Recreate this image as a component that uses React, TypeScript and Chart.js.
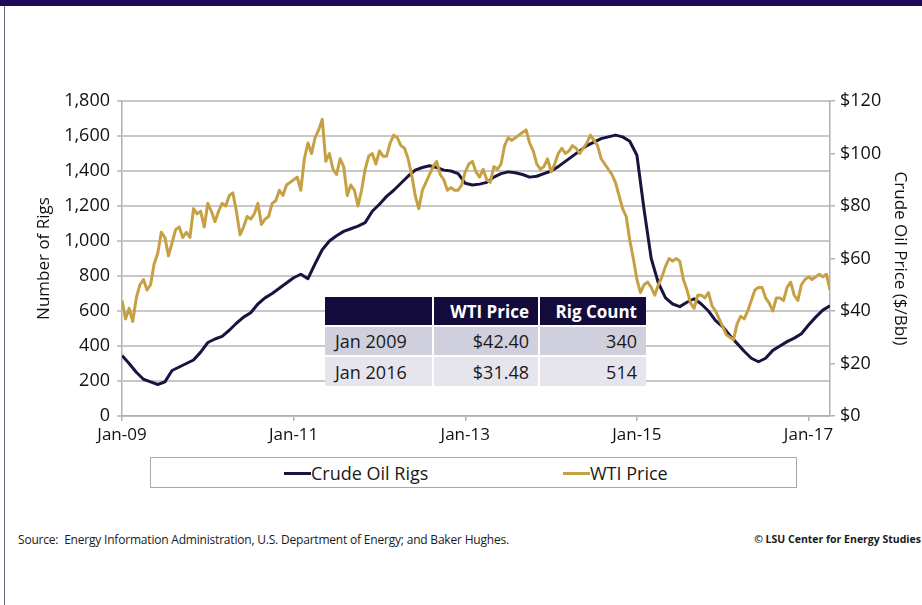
import React, { useEffect, useRef } from 'react';
import { Chart, registerables } from 'chart.js';

Chart.register(...registerables);

// Monthly crude oil rig count, Jan 2009 (index 0) .. Apr 2017 (index 99)
const rigCounts = [
  345, 300, 250, 210, 195, 180, 195, 260, 280, 300, 320, 365,
  420, 440, 455, 490, 530, 565, 590, 640, 675, 700, 730, 760,
  790, 810, 785, 870, 950, 1000, 1030, 1055, 1070, 1085, 1105, 1170,
  1210, 1255, 1290, 1330, 1370, 1405, 1420, 1430, 1420, 1405, 1400, 1385,
  1330, 1320, 1325, 1335, 1365, 1385, 1395, 1390, 1380, 1365, 1370, 1385,
  1400, 1425, 1455, 1485, 1515, 1545, 1565, 1585, 1595, 1605, 1595, 1570,
  1490, 1180, 900, 760, 675, 640, 625, 650, 670, 640, 600, 545,
  510, 460, 415, 370, 330, 310, 330, 375, 400, 425, 445, 470,
  520, 565, 605, 630,
];

// Semi-monthly WTI price ($/Bbl), Jan 2009 (index 0) .. Apr 2017 (index 198)
const wtiPrices = [
  44, 37, 41, 36, 45, 50, 52, 48, 50, 58, 62, 70, 68, 61, 66, 71, 72, 68, 70, 68, 79, 77, 78, 72,
  81, 78, 74, 78, 81, 80, 84, 85, 78, 69, 72, 76, 75, 77, 81, 73, 75, 76, 81, 82, 86, 84, 88, 89,
  90, 91, 86, 98, 104, 100, 106, 109, 113, 97, 100, 94, 92, 98, 95, 84, 88, 86, 80, 86, 94, 99, 100, 96,
  101, 99, 99, 104, 107, 106, 103, 102, 98, 92, 84, 79, 86, 89, 92, 95, 97, 92, 90, 86, 87, 86, 86, 88,
  93, 96, 97, 93, 91, 94, 90, 89, 95, 94, 96, 103, 106, 105, 106, 107, 108, 109, 104, 101, 96, 94, 95, 98,
  93, 96, 100, 102, 100, 101, 103, 102, 100, 102, 104, 107, 105, 103, 98, 96, 94, 92, 89, 84, 79, 76, 67, 60,
  52, 47, 50, 51, 49, 46, 50, 53, 57, 60, 59, 60, 59, 52, 48, 43, 41, 46, 46, 45, 47, 42, 40, 37,
  34, 31, 30, 29, 35, 38, 37, 40, 44, 48, 49, 49, 45, 43, 40, 45, 45, 44, 49, 51, 46, 44, 50, 52,
  53, 52, 53, 54, 53, 54, 48,
];

const xTickMonths = [0, 24, 48, 72, 96];
const xTickLabels = ['Jan-09', 'Jan-11', 'Jan-13', 'Jan-15', 'Jan-17'];
const seriesNames = ['Crude Oil Rigs', 'WTI Price'];
const tableHeaders = ['', 'WTI Price', 'Rig Count'];
const tableRows = [
  ['Jan 2009', '$42.40', '340'],
  ['Jan 2016', '$31.48', '514'],
];

const NAVY = '#1b1242';
const GOLD = '#c6a144';
const FONT = "'Open Sans', sans-serif";

const fmtComma = (v: number) => String(v).replace(/\B(?=(\d{3})+(?!\d))/g, ',');

export default function App() {
  const canvasRef = useRef<HTMLCanvasElement | null>(null);

  useEffect(() => {
    const canvas = canvasRef.current;
    if (!canvas) return;
    const chart = new Chart(canvas, {
      type: 'line',
      data: {
        datasets: [
          {
            label: seriesNames[0],
            data: rigCounts.map((y, i) => ({ x: i, y })),
            yAxisID: 'y',
            borderColor: NAVY,
            backgroundColor: NAVY,
            borderWidth: 3,
            pointRadius: 0,
            tension: 0,
            borderJoinStyle: 'round',
            order: 2,
          },
          {
            label: seriesNames[1],
            data: wtiPrices.map((y, i) => ({ x: i / 2, y })),
            yAxisID: 'y1',
            borderColor: GOLD,
            backgroundColor: GOLD,
            borderWidth: 3,
            pointRadius: 0,
            tension: 0,
            borderJoinStyle: 'round',
            order: 1,
          },
        ],
      },
      options: {
        responsive: false,
        animation: false,
        devicePixelRatio: 1,
        layout: { padding: { top: 101, left: 0, right: 0, bottom: 0 } },
        plugins: { legend: { display: false }, tooltip: { enabled: false } },
        scales: {
          x: {
            type: 'linear',
            min: 0,
            max: 99,
            afterBuildTicks: (s: any) => {
              s.ticks = xTickMonths.map((v) => ({ value: v }));
            },
            afterFit: (s: any) => {
              s.height = 34;
            },
            grid: { drawOnChartArea: false, drawTicks: true, tickLength: 5, color: '#b0b0b0', lineWidth: 1.5 },
            border: { color: '#b0b0b0', width: 1.5 },
            ticks: {
              autoSkip: false,
              maxRotation: 0,
              padding: 4,
              color: '#111',
              font: { family: FONT, size: 17 },
              callback: (v: any) => {
                const i = xTickMonths.indexOf(Number(v));
                return i >= 0 ? xTickLabels[i] : '';
              },
            },
          },
          y: {
            position: 'left',
            min: 0,
            max: 1800,
            afterFit: (s: any) => {
              s.width = 122;
            },
            grid: { color: '#c8c8c8', lineWidth: 2, tickLength: 5 },
            border: { color: '#b0b0b0', width: 1.5 },
            ticks: {
              stepSize: 200,
              padding: 7,
              color: '#111',
              font: { family: FONT, size: 18 },
              callback: (v: any) => fmtComma(Number(v)),
            },
            title: {
              display: true,
              text: 'Number of Rigs',
              color: '#111',
              font: { family: FONT, size: 17 },
              padding: { top: 34, bottom: 0 },
            },
          },
          y1: {
            position: 'right',
            min: 0,
            max: 120,
            afterFit: (s: any) => {
              s.width = 92;
            },
            grid: { drawOnChartArea: false, tickLength: 5, color: '#b0b0b0', lineWidth: 1.5 },
            border: { color: '#b0b0b0', width: 1.5 },
            ticks: {
              stepSize: 20,
              padding: 5,
              color: '#111',
              font: { family: FONT, size: 18 },
              callback: (v: any) => '$' + v,
            },
            title: {
              display: true,
              text: 'Crude Oil Price ($/Bbl)',
              color: '#111',
              font: { family: FONT, size: 17 },
              padding: { top: 12, bottom: 0 },
            },
          },
        },
      },
    } as any);
    return () => chart.destroy();
  }, []);

  const cellBase: React.CSSProperties = {
    display: 'flex',
    alignItems: 'center',
    padding: '0 9px 0 10px',
    boxSizing: 'border-box',
    fontSize: 18,
    color: '#1a1a1a',
    whiteSpace: 'nowrap',
  };

  return (
    <div
      style={{
        position: 'absolute',
        left: 0,
        top: 0,
        width: 922,
        height: 605,
        background: '#fff',
        overflow: 'hidden',
        fontFamily: FONT,
      }}
    >
      <div style={{ position: 'absolute', left: 0, top: 0, width: 922, height: 6, background: '#21075a' }} />
      <div style={{ position: 'absolute', left: 4, top: 6, width: 1, height: 599, background: '#6d6585' }} />
      <canvas
        ref={canvasRef}
        width={922}
        height={450}
        style={{ position: 'absolute', left: 0, top: 0, width: 922, height: 450 }}
      />

      {/* data table */}
      <div
        style={{
          position: 'absolute',
          left: 325,
          top: 297,
          display: 'grid',
          gridTemplateColumns: '107px 104px 106px',
          gridTemplateRows: '28px 28px 29px',
          gap: 2,
          background: '#fff',
        }}
      >
        {tableHeaders.map((h, i) => (
          <div
            key={'h' + i}
            style={{
              ...cellBase,
              background: '#130b3b',
              color: '#fff',
              fontWeight: 700,
              fontSize: 17,
              justifyContent: 'flex-end',
            }}
          >
            {h}
          </div>
        ))}
        {tableRows.map((row, r) =>
          row.map((c, i) => (
            <div
              key={r + '-' + i}
              style={{
                ...cellBase,
                background: r === 0 ? '#d0cfdd' : '#e6e5ee',
                justifyContent: i === 0 ? 'flex-start' : 'flex-end',
              }}
            >
              {c}
            </div>
          ))
        )}
      </div>

      {/* legend */}
      <div
        style={{
          position: 'absolute',
          left: 150,
          top: 457,
          width: 647,
          height: 31,
          boxSizing: 'border-box',
          border: '1px solid #a8a8a8',
        }}
      />
      {[NAVY, GOLD].map((col, i) => (
        <div
          key={'lg' + i}
          style={{
            position: 'absolute',
            left: i === 0 ? 284 : 563,
            top: 462,
            height: 22,
            display: 'flex',
            alignItems: 'center',
            fontSize: 18,
            color: '#1a1a1a',
            whiteSpace: 'nowrap',
          }}
        >
          <span style={{ display: 'inline-block', width: 27, height: 3, background: col }} />
          <span>{seriesNames[i]}</span>
        </div>
      ))}

      {/* footer */}
      <div
        style={{
          position: 'absolute',
          left: 18,
          top: 531,
          fontSize: 12,
          color: '#1a1a1a',
          whiteSpace: 'nowrap',
          letterSpacing: -0.2,
        }}
      >
        Source:&nbsp; Energy Information Administration, U.S. Department of Energy; and Baker Hughes.
      </div>
      <div
        style={{
          position: 'absolute',
          right: 1,
          top: 532,
          fontSize: 10.5,
          fontWeight: 700,
          color: '#1a1a1a',
          whiteSpace: 'nowrap',
        }}
      >
        © LSU Center for Energy Studies
      </div>
    </div>
  );
}
